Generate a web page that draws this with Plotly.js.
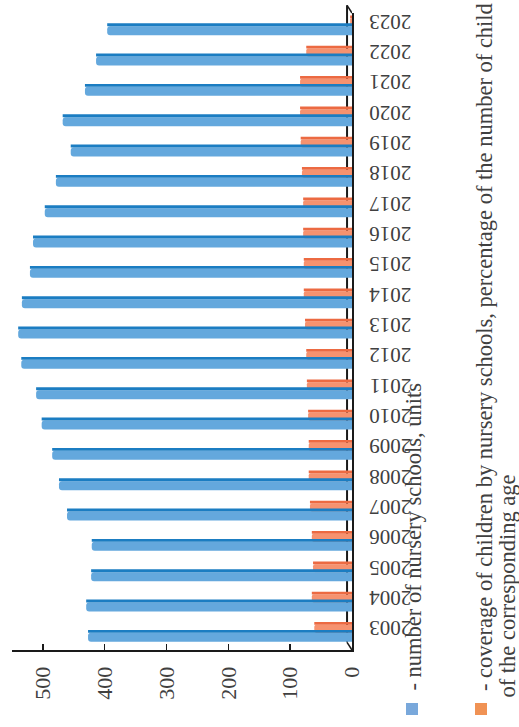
<!DOCTYPE html>
<html>
<head>
<meta charset="utf-8">
<script src="https://cdn.plot.ly/plotly-3.0.1.min.js"></script>
<style>
  html, body { margin: 0; padding: 0; overflow: hidden; background: #ffffff; }
  #chart { width: 519px; height: 727px; }
</style>
</head>
<body>
<div id="chart"></div>
<script>
// Nursery schools: count (units) and coverage of children (% of the age group)
const years = ['2003','2004','2005','2006','2007','2008','2009','2010','2011','2012','2013',
               '2014','2015','2016','2017','2018','2019','2020','2021','2022','2023'];
const schools = [427, 430, 422, 421, 461, 474, 485, 502, 511, 535, 540,
                 534, 521, 516, 497, 479, 455, 468, 432, 414, 396];
const coverage = [61, 65, 63, 65, 68, 70, 70, 71, 73, 74, 76,
                  78, 78, 79, 79, 81, 83, 84, 84, 74, 3];
const valueTicks = [0, 100, 200, 300, 400, 500];

const legendSchools = '- number of nursery schools, units';
const legendCoverage1 = '- coverage of children by nursery schools, percentage of the number of child';
const legendCoverage2 = 'of the corresponding age';

// frame geometry (pixels)
const W = 519, H = 727;
const M = { l: 12, r: 167, t: 13, b: 77 };
const plotW = W - M.l - M.r, plotH = H - M.t - M.b;
const px = x => (x - M.l) / plotW;
const py = y => (H - M.b - y) / plotH;

const serif = 'Liberation Serif, Times New Roman, serif';
const textGray = '#404040';

// each column is drawn as a light face plus a darker depth strip
function bar(values, color, offset, width, radius) {
  return {
    type: 'bar', orientation: 'h', y: years, x: values,
    offset: offset, width: width,
    marker: { color: color, line: { width: 0 }, cornerradius: radius },
    showlegend: false, hoverinfo: 'x+y'
  };
}

const data = [
  bar(coverage, '#f6926f', 0.066, 0.264, 2),
  bar(coverage, '#ec6a42', 0.33, 0.09, 0),
  bar(schools, '#64a8dd', -0.23, 0.296, 3),
  bar(schools, '#1b7dc2', 0.066, 0.095, 0)
];

const shapes = [
  // back edge of the floor, hidden behind the bars
  { type: 'line', xref: 'x', yref: 'paper', x0: 8, x1: 8, y0: 0.012, y1: 1.012,
    line: { color: '#1a1a1a', width: 2 }, layer: 'below' },
  { type: 'line', xref: 'x', yref: 'paper', x0: 8, x1: 0, y0: 1.012, y1: 1.0,
    line: { color: '#1a1a1a', width: 1.5 } },
  { type: 'line', xref: 'x', yref: 'paper', x0: 8, x1: 0, y0: 0.012, y1: 0,
    line: { color: '#1a1a1a', width: 1.5 } },
  // legend keys
  { type: 'rect', xref: 'paper', yref: 'paper', x0: px(406), x1: px(418), y0: py(715), y1: py(703),
    fillcolor: '#79a8db', line: { width: 0 } },
  { type: 'rect', xref: 'paper', yref: 'paper', x0: px(475), x1: px(487), y0: py(715), y1: py(703),
    fillcolor: '#f09254', line: { width: 0 } }
];

function legendText(text, cx, bottom) {
  return {
    xref: 'paper', yref: 'paper', x: px(cx), y: py(bottom),
    xanchor: 'center', yanchor: 'bottom', textangle: -90,
    text: text, showarrow: false, borderpad: 0,
    font: { family: serif, size: 22.5, color: textGray }
  };
}

const layout = {
  width: W, height: H,
  margin: M,
  paper_bgcolor: '#ffffff', plot_bgcolor: '#ffffff',
  barmode: 'overlay',
  showlegend: false,
  xaxis: {
    range: [550, 0],
    tickvals: valueTicks,
    ticks: 'inside', ticklen: 6, tickwidth: 1.5, tickcolor: '#1a1a1a',
    tickangle: -90,
    ticklabelstandoff: 6,
    tickfont: { family: serif, size: 22, color: textGray },
    showline: true, linecolor: '#1a1a1a', linewidth: 2,
    showgrid: false, zeroline: false, fixedrange: true
  },
  yaxis: {
    type: 'category',
    range: [-0.5, years.length - 0.5],
    side: 'right',
    ticks: '', tickangle: 180,
    ticklabelstandoff: 53,
    tickfont: { family: serif, size: 21, color: textGray },
    showline: true, linecolor: '#1a1a1a', linewidth: 2,
    showgrid: false, zeroline: false, fixedrange: true
  },
  shapes: shapes,
  annotations: [
    legendText(legendSchools, 413, 692),
    legendText(legendCoverage1, 484, 692),
    legendText(legendCoverage2, 507, 699)
  ]
};

Plotly.newPlot('chart', data, layout, { displayModeBar: false, staticPlot: true });
</script>
</body>
</html>
